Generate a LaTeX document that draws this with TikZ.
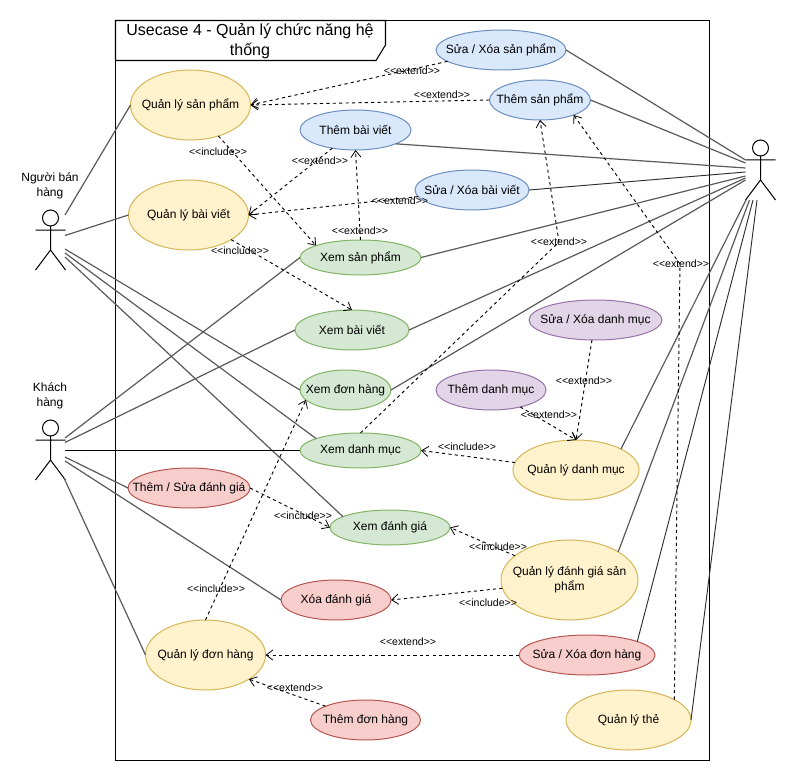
\documentclass[tikz,border=0pt]{standalone}
\usepackage{fontspec}
\setmainfont{Liberation Sans}
\usetikzlibrary{arrows.meta,shapes.geometric}
\newcommand{\zt}[1]{\makebox[0pt][c]{\raisebox{-0.7pt}{#1}}}
\newcommand{\ext}{<{}<extend>{}>}
\newcommand{\inc}{<{}<include>{}>}
\definecolor{lineg}{HTML}{5A5A5A}
\definecolor{lined}{HTML}{2E2E2E}
\tikzset{
  uc/.style n args={2}{shape=ellipse,inner sep=0pt,outer sep=0pt,line width=0.75pt,
    minimum width=#1*0.75pt,minimum height=#2*0.75pt,text=black,
    font=\fontsize{9pt}{11.25pt}\selectfont},
  blueuc/.style={draw=uBlueD,fill=uBlue},
  yellowuc/.style={draw=uYelD,fill=uYel},
  greenuc/.style={draw=uGreD,fill=uGre},
  purpleuc/.style={draw=uPurD,fill=uPur},
  reduc/.style={draw=uRedD,fill=uRed},
  assoc/.style={draw=lineg,line width=0.9pt},
  assocb/.style={draw=lined,line width=0.7pt},
  assock/.style={draw=black,line width=0.8pt},
  dep/.style={draw=black,line width=0.7pt,dash pattern=on 2.4pt off 2.4pt,
    -{Straight Barb[length=5pt,width=7.5pt,line width=0.6pt]}},
  tag/.style={font=\fontsize{7.9pt}{9pt}\selectfont,inner sep=0pt,text=black},
  actorname/.style={font=\fontsize{9pt}{11.25pt}\selectfont,align=center,inner sep=0pt},
  stickman/.pic={
    \draw[black,line width=0.75pt] (0,-22) circle[radius=8]
      (0,-14) -- (0,10) (-15,-10) -- (15,-10) (-15,30) -- (0,10) -- (15,30);
  }
}
\definecolor{uBlue}{HTML}{DAE8FC}\definecolor{uBlueD}{HTML}{6C8EBF}
\definecolor{uYel}{HTML}{FFF2CC}\definecolor{uYelD}{HTML}{D6B656}
\definecolor{uGre}{HTML}{D5E8D4}\definecolor{uGreD}{HTML}{82B366}
\definecolor{uPur}{HTML}{E1D5E7}\definecolor{uPurD}{HTML}{9673A6}
\definecolor{uRed}{HTML}{F8CECC}\definecolor{uRedD}{HTML}{B85450}
\begin{document}
\begin{tikzpicture}[x=0.75pt,y=-0.75pt]
\useasboundingbox (0,0) rectangle (796,781);
\fill[white] (0,0) rectangle (796,781);
% frame
\node[draw=black,line width=0.8pt,fill=white,inner sep=0pt,outer sep=0pt,minimum width=594*0.75pt,minimum height=740*0.75pt] (frame) at (412.5,390.5) {};
\draw[black,line width=0.8pt,fill=white] (115.5,20.5) -- (385.5,20.5) -- (385.5,45) -- (376,60.5) -- (115.5,60.5) -- cycle;
\node[font=\fontsize{12pt}{15pt}\selectfont,align=center,inner sep=0pt] (title) at (250,41) {Usecase 4 - Quản lý chức năng hệ\\thống};
% actors
\pic at (50.5,240) {stickman};
\pic at (50.5,450) {stickman};
\pic at (760.5,170) {stickman};
\node[actorname] (seller) at (50,185.5) {Người bán\\hàng};
\node[actorname] (buyer) at (50,395.5) {Khách\\hàng};
% use cases
\node[uc={120}{70},yellowuc] (qlsp) at (190.5,105) {\zt{Quản lý sản phẩm}};
\node[uc={120}{70},yellowuc] (qlbv) at (188.5,215) {\zt{Quản lý bài viết}};
\node[uc={111}{40},blueuc] (thembv) at (355.5,130) {\zt{Thêm bài viết}};
\node[uc={130}{40},blueuc] (suasp) at (501,50) {\zt{Sửa / Xóa sản phẩm}};
\node[uc={101}{40},blueuc] (themsp) at (540,100) {\zt{Thêm sản phẩm}};
\node[uc={114}{40},blueuc] (suabv) at (472,190) {\zt{Sửa / Xóa bài viết}};
\node[uc={121}{35},greenuc] (xemsp) at (360.5,257.5) {\zt{Xem sản phẩm}};
\node[uc={114}{40},greenuc] (xembv) at (352,330) {\zt{Xem bài viết}};
\node[uc={91}{40},greenuc] (xemdh) at (345.5,390) {\zt{Xem đơn hàng}};
\node[uc={121}{35},greenuc] (xemdm) at (360.5,450.5) {\zt{Xem danh mục}};
\node[uc={122}{40},reduc] (themdg) at (189,488) {\zt{Thêm / Sửa đánh giá}};
\node[uc={120}{35},greenuc] (xemdg) at (390,527.5) {\zt{Xem đánh giá}};
\node[uc={110}{40},reduc] (xoadg) at (336,600) {\zt{Xóa đánh giá}};
\node[uc={120}{70},yellowuc] (qldh) at (205.5,655) {\zt{Quản lý đơn hàng}};
\node[uc={110}{40},reduc] (themdh) at (365.5,720) {\zt{Thêm đơn hàng}};
\node[uc={136}{40},reduc] (suadh) at (587,655) {\zt{Sửa / Xóa đơn hàng}};
\node[uc={137}{80},yellowuc] (qldg) at (569.5,580) {\zt{\raisebox{-1.2pt}{\begin{tabular}{@{}c@{}}Quản lý đánh giá sản\\phẩm\end{tabular}}}};
\node[uc={125}{60},yellowuc] (qlthe) at (628.5,720) {\zt{Quản lý thẻ}};
\node[uc={126}{60},yellowuc] (qldm) at (576,470) {\zt{Quản lý danh mục}};
\node[uc={133}{40},purpleuc] (suadm) at (595.5,320) {\zt{Sửa / Xóa danh mục}};
\node[uc={110}{40},purpleuc] (themdm) at (491,390) {\zt{Thêm danh mục}};
% actor attachment points
\coordinate (s1) at (65,215);
\coordinate (s2) at (65,235.5);
\coordinate (s3) at (65,249);
\coordinate (s4) at (65,253);
\coordinate (s5) at (65,257);
\coordinate (b1) at (65,438);
\coordinate (b2) at (65,442.5);
\coordinate (b3) at (65,450.5);
\coordinate (b4) at (65,457);
\coordinate (b5) at (65,461);
\coordinate (b6) at (64,478);
\coordinate (m1) at (745.5,160);
\coordinate (m2) at (745.5,163);
\coordinate (m3) at (745.5,168);
\coordinate (m4) at (745.5,172);
\coordinate (m5) at (745.5,176);
\coordinate (m6) at (745.5,178);
\coordinate (m7) at (745.5,180);
\coordinate (m8) at (746,200);
\coordinate (m9) at (749.5,200);
\coordinate (m10) at (753,200);
\coordinate (m11) at (757,200);
\coordinate (bendA) at (559,242);
\coordinate (bendB) at (680,264);
% associations
\draw[assoc] (s1) -- (qlsp.west);
\draw[assoc] (s2) -- (qlbv.west);
\draw[assoc] (s3) -- (xemdh.west);
\draw[assoc] (s4) -- (xemdm.165.8);
\draw[assoc] (s5) -- (xemdg.167);
\draw[assoc] (b1) -- (xemsp.west);
\draw[assoc] (b2) -- (xembv.west);
\draw[assock] (b3) -- (xemdm.west);
\draw[assoc] (b4) -- (themdg.west);
\draw[assoc] (b5) -- (xoadg.west);
\draw[assoc] (b6) -- (qldh.west);
\draw[assoc] (suasp.east) -- (m1);
\draw[assoc] (themsp.east) -- (m2);
\draw[assoc] (thembv.-19) -- (m3);
\draw[assocb] (suabv.east) -- (m4);
\draw[assoc] (xemsp.east) -- (m5);
\draw[assoc] (xembv.east) -- (m6);
\draw[assoc] (xemdh.east) -- (m7);
\draw[assoc] (qldm.25) -- (m8);
\draw[assoc] (qldg.30) -- (m9);
\draw[assocb] (suadh.15.8) -- (m10);
\draw[assocb] (qlthe.east) -- (m11);
% dependencies
\draw[dep] (suasp.192.8) -- (qlsp.east);
\draw[dep] (themsp.west) -- (qlsp.east);
\draw[dep] (thembv.218.7) -- (qlbv.east);
\draw[dep] (suabv.187) -- (qlbv.east);
\draw[dep] (xemsp.north) -- (thembv.south);
\draw[dep] (xemdm.north) -- (bendA) -- (themsp.south);
\draw[dep] (qlthe.24.8) -- (bendB) -- (themsp.-24);
\draw[dep] (qlsp.-48.4) -- (xemsp.165.8);
\draw[dep] (qlbv.-30.5) -- (xembv.north);
\draw[dep] (qldh.north) -- (xemdh.194);
\draw[dep] (qldm.173) -- (xemdm.east);
\draw[dep] (suadm.260) -- (qldm.north);
\draw[dep] (themdm.-30) -- (qldm.north);
\draw[dep] (themdg.east) -- (xemdg.west);
\draw[dep] (qldg.156) -- (xemdg.east);
\draw[dep] (qldg.187) -- (xoadg.east);
\draw[dep] (suadh.west) -- (qldh.east);
\draw[dep] (themdh.161) -- (qldh.-29.3);
% labels
\node[tag] (l1) at (412,71) {\ext};
\node[tag] (l2) at (442,95) {\ext};
\node[tag] (l3) at (320,161) {\ext};
\node[tag] (l4) at (400,201) {\ext};
\node[tag] (l5) at (360,231) {\ext};
\node[tag] (l6) at (559,242) {\ext};
\node[tag] (l7) at (681,264) {\ext};
\node[tag] (l8) at (218,152) {\inc};
\node[tag] (l9) at (240,251) {\inc};
\node[tag] (l10) at (216,589) {\inc};
\node[tag] (l11) at (467,447) {\inc};
\node[tag] (l12) at (584,381) {\ext};
\node[tag] (l13) at (549,415) {\ext};
\node[tag] (l14) at (303,516) {\inc};
\node[tag] (l15) at (498,547) {\inc};
\node[tag] (l16) at (488,603) {\inc};
\node[tag] (l17) at (408,642) {\ext};
\node[tag] (l18) at (295,688) {\ext};
\end{tikzpicture}
\end{document}
